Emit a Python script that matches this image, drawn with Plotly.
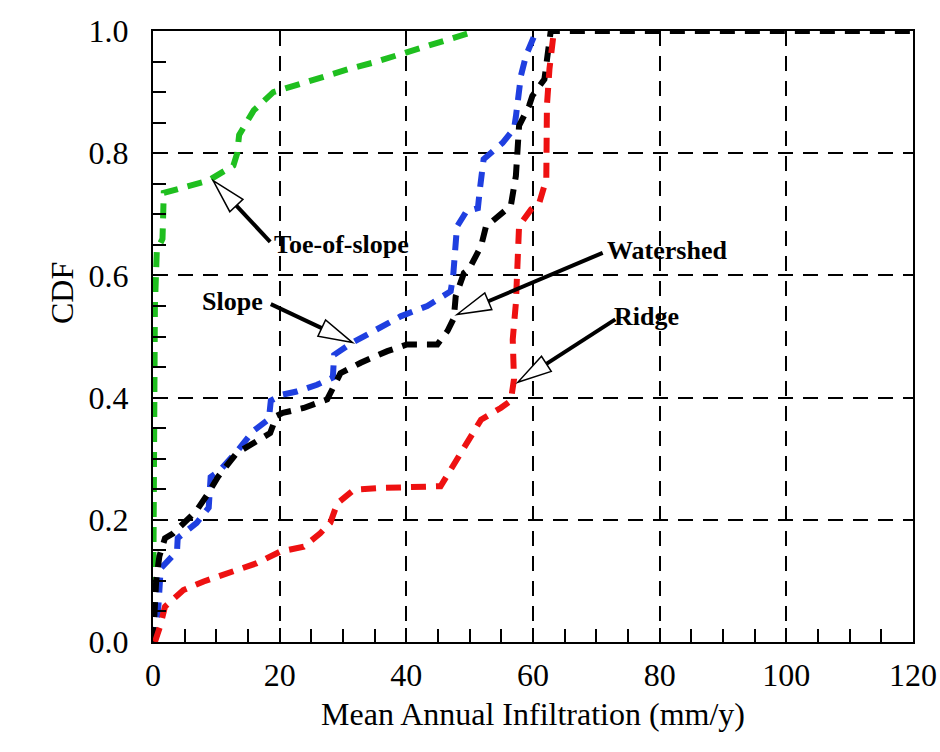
import math
import plotly.graph_objects as go

# ---------------- data ----------------
toe_x = [0, 0.1, 0.3, 0.6, 1.5, 1.7, 4.4, 8.7, 12.7, 13.3, 13.6, 15.9, 19, 23, 27, 31, 35, 39, 43, 46.5, 51]
toe_y = [0, 0.3, 0.55, 0.64, 0.66, 0.735, 0.742, 0.755, 0.78, 0.80, 0.83, 0.87, 0.90, 0.913, 0.925, 0.938, 0.949, 0.962, 0.974, 0.985, 1.0]

slope_x = [0, 0.8, 1.1, 1.2, 3.0, 3.8, 3.9, 6.9, 8.8, 9.1, 10.5, 12.2, 13.5, 15.8, 18.3, 18.6, 20.5, 22.7, 25.9, 28.4,
           28.6, 31.5, 34.9, 39.1, 43.3, 47, 47.4, 47.6, 48, 49.5, 51.3, 51.6, 52.2, 55.2, 57, 57.3, 57.6, 58.1, 58.9, 60.2, 61]
slope_y = [0, 0.05, 0.10, 0.12, 0.14, 0.15, 0.17, 0.195, 0.22, 0.27, 0.28, 0.298, 0.315, 0.345, 0.365, 0.395, 0.405, 0.41,
           0.421, 0.433, 0.47, 0.49, 0.509, 0.533, 0.55, 0.574, 0.60, 0.64, 0.68, 0.705, 0.71, 0.74, 0.79, 0.817, 0.84, 0.86,
           0.885, 0.927, 0.96, 0.992, 1.0]

watershed_x = [0, 0.3, 0.5, 1.0, 1.9, 3.2, 5.9, 6.8, 8.5, 10.3, 13.2, 17, 18.5, 19.5, 20.5, 23.8, 27.5, 29.6, 32.8, 37,
               40.1, 44.9, 46.5, 47.5, 47.8, 49.1, 49.9, 51.8, 52.6, 53.6, 56.5, 57.3, 57.6, 57.8, 59.4, 59.9, 61.8,
               62.3, 62.8, 120]
watershed_y = [0, 0.05, 0.10, 0.14, 0.17, 0.178, 0.205, 0.214, 0.24, 0.271, 0.309, 0.331, 0.342, 0.37, 0.375, 0.383,
               0.397, 0.44, 0.457, 0.476, 0.487, 0.487, 0.509, 0.53, 0.566, 0.604, 0.61, 0.648, 0.681, 0.689, 0.714,
               0.763, 0.807, 0.845, 0.878, 0.894, 0.921, 0.965, 1.0, 1.0]

ridge_x = [0.3, 1.1, 1.9, 4.8, 8, 12.2, 16.4, 20.1, 23.8, 26.4, 28, 29.1, 31.7, 35.9, 40.7, 45.4, 47, 49.7, 51.8, 54.9,
           56.5, 57, 56.8, 57.3, 57.6, 57.8, 59.7, 61, 62.1, 62.1, 62.2, 62.6, 63.1, 63.3]
ridge_y = [0.0, 0.025, 0.058, 0.085, 0.099, 0.115, 0.129, 0.148, 0.156, 0.178, 0.195, 0.227, 0.249, 0.252, 0.254, 0.255,
           0.282, 0.328, 0.364, 0.383, 0.395, 0.43, 0.495, 0.555, 0.637, 0.681, 0.708, 0.719, 0.757, 0.812, 0.878, 0.938,
           0.981, 1.0]

# labels: (text, text_x, text_y, arrow_tail_x, arrow_tail_y, arrow_tip_x, arrow_tip_y)
labels = [
    ("Toe-of-slope", 18.8, 0.650, 18.5, 0.655, 9.5, 0.755),
    ("Slope", 7.4, 0.557, 18.6, 0.553, 31.5, 0.490),
    ("Watershed", 71.3, 0.640, 71.0, 0.637, 48.0, 0.536),
    ("Ridge", 72.5, 0.533, 73.0, 0.528, 57.6, 0.425),
]

# ---------------- figure ----------------
W, H = 940, 752
ML, MR, MT, MB = 153, 27, 31, 110
PW, PH = W - ML - MR, H - MT - MB
SX = PW / 120.0
SY = PH / 1.0

SERIF = "Liberation Serif, Times New Roman, serif"
LINE_DASH = "15px,10px"

fig = go.Figure()
for xs, ys, col in [(toe_x, toe_y, "#1fbf1f"), (slope_x, slope_y, "#1f3fe0"),
                    (watershed_x, watershed_y, "#000000"), (ridge_x, ridge_y, "#ee1111")]:
    fig.add_trace(go.Scatter(x=xs, y=ys, mode="lines",
                             line=dict(color=col, width=6, dash=LINE_DASH),
                             showlegend=False, hoverinfo="skip"))

shapes = []
annotations = []
HEAD_L, HEAD_W = 34, 9
for text, lx, ly, tx, ty, px_, py_ in labels:
    tipx, tipy = px_ * SX, -py_ * SY
    tailx, taily = tx * SX, -ty * SY
    dx, dy = tailx - tipx, taily - tipy
    d = math.hypot(dx, dy)
    ux, uy = dx / d, dy / d
    nx, ny = -uy, ux
    bx, by = tipx + ux * HEAD_L, tipy + uy * HEAD_L
    p1 = (bx + nx * HEAD_W, by + ny * HEAD_W)
    p2 = (bx - nx * HEAD_W, by - ny * HEAD_W)
    to_d = lambda p: (p[0] / SX, -p[1] / SY)
    b_d = to_d((bx, by))
    p1d, p2d = to_d(p1), to_d(p2)
    shapes.append(dict(type="line", xref="x", yref="y", x0=tx, y0=ty, x1=b_d[0], y1=b_d[1],
                       line=dict(color="black", width=4)))
    shapes.append(dict(type="path", xref="x", yref="y",
                       path=f"M {px_},{py_} L {p1d[0]},{p1d[1]} L {p2d[0]},{p2d[1]} Z",
                       fillcolor="white", line=dict(color="black", width=1.5)))
    annotations.append(dict(x=lx, y=ly, xref="x", yref="y", text=f"<b>{text}</b>", showarrow=False,
                            xanchor="left", yanchor="middle",
                            font=dict(family=SERIF, size=26, color="black")))

annotations.append(dict(x=(42 - ML) / PW, y=(642 - 293) / PH, xref="paper", yref="paper", text="CDF",
                        showarrow=False, textangle=-90, font=dict(family=SERIF, size=32, color="black")))

axis_common = dict(showline=True, linecolor="black", linewidth=2, mirror=True, automargin=False,
                   showgrid=True, gridcolor="black", gridwidth=1.5, griddash="15px,10px",
                   zeroline=False, ticks="inside", ticklen=14, tickwidth=1.5, tickcolor="black",
                   tickfont=dict(family=SERIF, size=32, color="black"))

fig.update_xaxes(range=[0, 120], tickmode="linear", tick0=0, dtick=20, ticklabelstandoff=4,
                 minor=dict(tickmode="linear", tick0=0, dtick=5, ticks="inside", ticklen=13, tickwidth=1.5,
                            tickcolor="black", showgrid=False),
                 title=dict(text="Mean Annual Infiltration (mm/y)", font=dict(family=SERIF, size=32, color="black"),
                            standoff=10),
                 **axis_common)
fig.update_yaxes(range=[0, 1.0], tickmode="linear", tick0=0, dtick=0.2, tickformat=".1f", ticklabelstandoff=16,
                 minor=dict(tickmode="linear", tick0=0, dtick=0.05, ticks="inside", ticklen=13, tickwidth=1.5,
                            tickcolor="black", showgrid=False),
                 **axis_common)

fig.update_layout(width=W, height=H, margin=dict(l=ML, r=MR, t=MT, b=MB),
                  paper_bgcolor="white", plot_bgcolor="white",
                  shapes=shapes, annotations=annotations, showlegend=False)

fig.write_html("out.html", config={"displayModeBar": False},
               post_script="document.body.style.margin='0px';document.body.style.overflow='hidden';")
